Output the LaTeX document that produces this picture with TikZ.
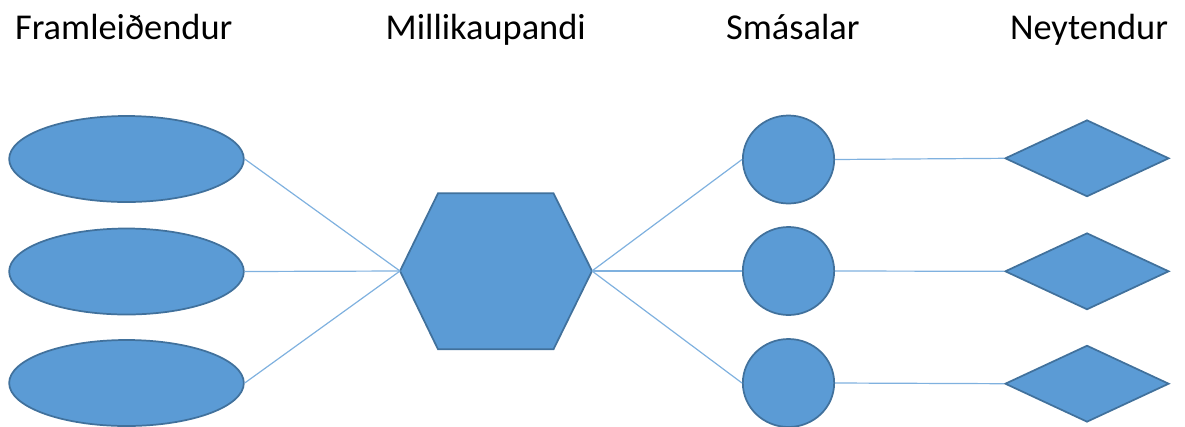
\documentclass[tikz,border=0pt]{standalone}
\usepackage{fontspec}
\setmainfont{Carlito}
\usetikzlibrary{shapes.geometric}
\definecolor{shapefill}{HTML}{5B9BD5}
\definecolor{shapeedge}{HTML}{41719C}
\definecolor{linkcol}{HTML}{7FB1DF}
\begin{document}
\begin{tikzpicture}[x=0.75pt,y=-0.75pt,
  shp/.style={fill=shapefill,draw=shapeedge,line width=1.3pt,inner sep=0pt},
  prod/.style={shp,ellipse,minimum width=176pt,minimum height=64.5pt},
  shop/.style={shp,ellipse,minimum width=68.5pt,minimum height=66pt},
  cons/.style={shp,diamond,minimum width=123pt,minimum height=57.5pt},
  link/.style={draw=linkcol,line width=0.9pt},
  title/.style={anchor=base,font=\fontsize{27.3pt}{32pt}\selectfont,inner sep=0pt}]
\useasboundingbox (0,0) rectangle (1185,426);
% titles
\node[title] (t1) at (123.7,39.3) {Framleiðendur};
\node[title] (t2) at (485.8,39.3) {Millikaupandi};
\node[title] (t3) at (792.8,39.3) {Smásalar};
\node[title] (t4) at (1089,39.3) {Neytendur};
% producers
\node[prod] (p1) at (126.5,159) {};
\node[prod] (p2) at (126.5,271.5) {};
\node[prod] (p3) at (126.5,383) {};
% wholesaler hexagon
\coordinate (hL) at (400,271);
\coordinate (hR) at (592,271);
\draw[shp] (hL) -- (438,193.3) -- (553.5,193.3) -- (hR) -- (553.5,349.3) -- (438,349.3) -- cycle;
% retailers
\node[shop] (s1) at (788.5,159.5) {};
\node[shop] (s2) at (788.5,271) {};
\node[shop] (s3) at (788.5,383) {};
% consumers
\node[cons] (c1) at (1087,158.3) {};
\node[cons] (c2) at (1087,271.3) {};
\node[cons] (c3) at (1087,383.7) {};
% connectors
\draw[link] (p1.east) -- (hL);
\draw[link] (p2.east) -- (hL);
\draw[link] (p3.east) -- (hL);
\draw[link] (hR) -- (s1.west);
\draw[link] (hR) -- (s2.west);
\draw[link] (hR) -- (s3.west);
\draw[link] (s1.east) -- (c1.west);
\draw[link] (s2.east) -- (c2.west);
\draw[link] (s3.east) -- (c3.west);
\end{tikzpicture}
\end{document}
